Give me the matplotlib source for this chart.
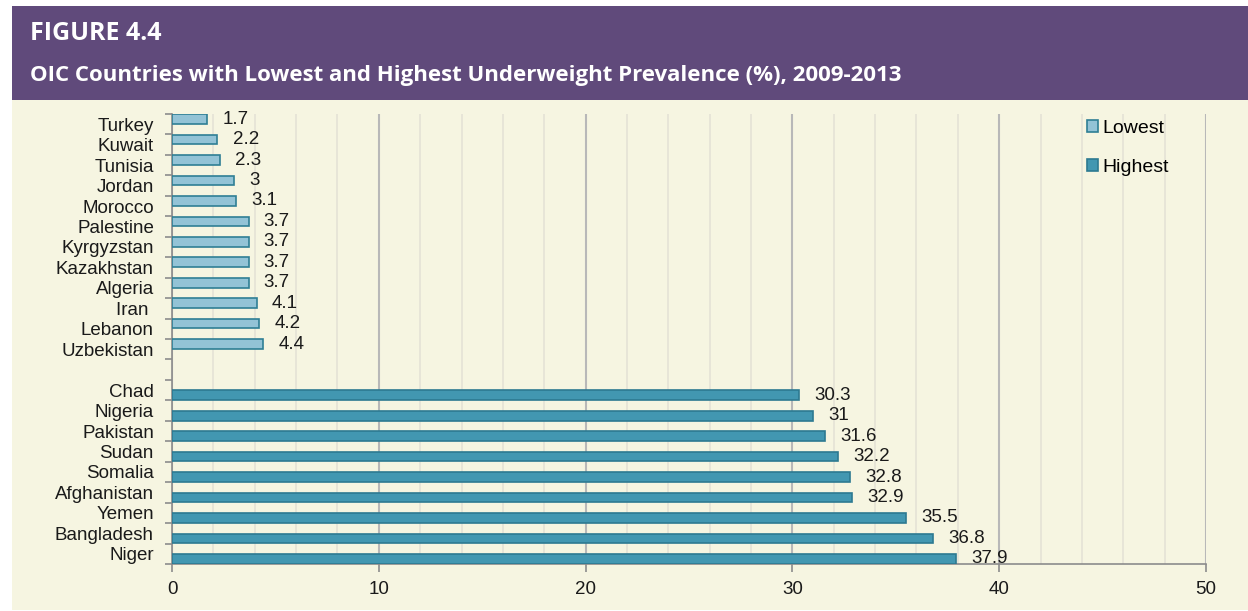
import matplotlib.pyplot as plt
from matplotlib.patches import Rectangle
from matplotlib.ticker import MultipleLocator, FixedLocator

# chart data
lowest_countries = ['Turkey', 'Kuwait', 'Tunisia', 'Jordan', 'Morocco', 'Palestine',
                    'Kyrgyzstan', 'Kazakhstan', 'Algeria', 'Iran ', 'Lebanon', 'Uzbekistan']
lowest_values = [1.7, 2.2, 2.3, 3, 3.1, 3.7, 3.7, 3.7, 3.7, 4.1, 4.2, 4.4]
highest_countries = ['Chad', 'Nigeria', 'Pakistan', 'Sudan', 'Somalia', 'Afghanistan',
                     'Yemen', 'Bangladesh', 'Niger']
highest_values = [30.3, 31, 31.6, 32.2, 32.8, 32.9, 35.5, 36.8, 37.9]

title_top = 'FIGURE 4.4'
title_sub = 'OIC Countries with Lowest and Highest Underweight Prevalence (%), 2009-2013'

purple = '#604a7b'
cream = '#f6f5e1'
low_fill = '#93c3d6'
low_edge = '#2f7f95'
high_fill = '#4297b1'
high_edge = '#2d7a91'

plt.rcParams['font.family'] = ['Liberation Sans', 'DejaVu Sans']

W, H = 1248, 611
fig = plt.figure(figsize=(W / 100, H / 100), dpi=100)
fig.patch.set_facecolor('white')

# header band and cream panel
fig.patches.append(Rectangle((12 / W, 1 - 100 / H), 1 - 12 / W, 94 / H,
                             transform=fig.transFigure, facecolor=purple, edgecolor='none', zorder=-5))
fig.patches.append(Rectangle((12 / W, 1 - 610 / H), 1 - 12 / W, 510 / H,
                             transform=fig.transFigure, facecolor=cream, edgecolor='none', zorder=-5))
fig.text(30 / W, 1 - 34 / H, title_top, color='white', fontsize=18, fontweight='bold',
         family=['Open Sans', 'DejaVu Sans'], va='center', ha='left')
fig.text(30 / W, 1 - 75 / H, title_sub, color='white', fontsize=16, fontweight='bold',
         family=['Open Sans', 'DejaVu Sans'], va='center', ha='left')

ax = fig.add_axes([172 / W, 1 - 564 / H, (1206 - 172) / W, (564 - 114) / H])
ax.set_facecolor('none')
ax.set_zorder(2)

labels = lowest_countries + [''] + highest_countries
n_low = len(lowest_countries)
low_pos = list(range(n_low))
high_pos = [n_low + 1 + i for i in range(len(highest_countries))]

ax.barh([p - 0.25 for p in low_pos], lowest_values, height=0.47,
        color=low_fill, edgecolor=low_edge, linewidth=1.2, label='Lowest', zorder=3)
ax.barh([p + 0.25 for p in high_pos], highest_values, height=0.47,
        color=high_fill, edgecolor=high_edge, linewidth=1.2, label='Highest', zorder=3)

for p, v in zip(low_pos, lowest_values):
    ax.annotate(f'{v:g}', (v, p - 0.25), xytext=(11, 0), textcoords='offset points',
                va='center', ha='left', fontsize=13.5, color='#1a1a1a')
for p, v in zip(high_pos, highest_values):
    ax.annotate(f'{v:g}', (v, p + 0.25), xytext=(11, 0), textcoords='offset points',
                va='center', ha='left', fontsize=13.5, color='#1a1a1a')

ax.set_xlim(0, 50)
ax.set_ylim(len(labels) - 0.5, -0.5)

ax.set_yticks(range(len(labels)))
ax.set_yticklabels(labels, fontsize=13.5, color='#1a1a1a')
ax.yaxis.set_minor_locator(FixedLocator([i - 0.5 for i in range(len(labels) + 1)]))
ax.tick_params(axis='y', which='major', length=0, pad=13)
ax.tick_params(axis='y', which='minor', length=5, width=1.2, color='#8c8c8c')

ax.xaxis.set_major_locator(MultipleLocator(10))
ax.xaxis.set_minor_locator(MultipleLocator(2))
ax.tick_params(axis='x', which='major', length=6, width=1.2, color='#8c8c8c',
               labelsize=13.5, labelcolor='#1a1a1a', pad=6)
ax.tick_params(axis='x', which='minor', length=0)

ax.grid(which='major', axis='x', color='#b8b8b8', linewidth=1.5, zorder=1)
ax.grid(which='minor', axis='x', color='#e6e4d6', linewidth=1.3, zorder=0)

for s in ['top', 'right']:
    ax.spines[s].set_visible(False)
ax.spines['left'].set_color('#8c8c8c')
ax.spines['left'].set_linewidth(1.2)
ax.spines['bottom'].set_color('#8c8c8c')
ax.spines['bottom'].set_linewidth(1.2)

ax.legend(loc='upper left', bbox_to_anchor=(1077 / W, 1 - 110 / H), bbox_transform=fig.transFigure,
          frameon=False, fontsize=14, handlelength=0.6, handleheight=0.6,
          handletextpad=0.2, labelspacing=1.15, borderpad=0)

fig.savefig('out.png', dpi=100, facecolor=fig.get_facecolor())
